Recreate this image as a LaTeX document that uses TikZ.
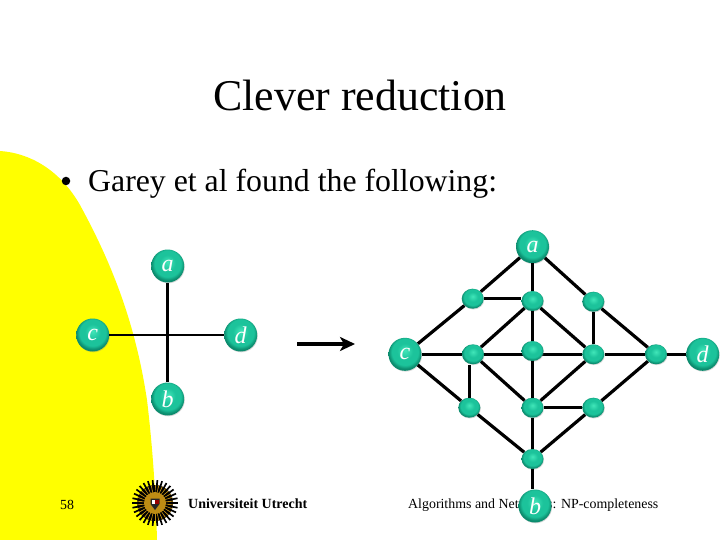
\documentclass[tikz,border=0pt]{standalone}
\usepackage{fontspec}
\setmainfont{Liberation Serif}
\usetikzlibrary{arrows.meta, shadows, shapes.geometric}
\definecolor{slideyellow}{RGB}{255,255,0}
\definecolor{ballteal}{RGB}{28,195,155}
\definecolor{ballrim}{RGB}{12,140,110}
\definecolor{balllight}{RGB}{65,230,185}
\definecolor{logogold}{RGB}{190,140,20}
\pgfdeclareradialshading{ballshade}{\pgfpoint{0bp}{6bp}}{%
  color(0bp)=(balllight); color(12bp)=(ballteal); color(20bp)=(ballteal); color(25bp)=(ballrim); color(50bp)=(ballrim)}
\begin{document}
\begin{tikzpicture}[
    x=1pt, y=-1pt,
    terminal/.style={circle, minimum size=33pt, inner sep=0pt, shading=ballshade, text=white,
        font=\fontsize{24}{24}\selectfont\itshape, drop shadow={shadow xshift=0.6pt, shadow yshift=-0.8pt, opacity=0.3}},
    joint/.style={ellipse, minimum width=22pt, minimum height=20pt, inner sep=0pt, shading=ballshade,
        drop shadow={shadow xshift=0.6pt, shadow yshift=-0.8pt, opacity=0.3}},
    edge/.style={line width=3.2pt, black},
    footer/.style={font=\fontsize{13.9}{13.9}\selectfont, inner sep=0pt}
]
\useasboundingbox (0, 0) rectangle (720, 540);

% Yellow backdrop
\fill[slideyellow] (0, 151) .. controls (30, 153) and (60, 170) .. (80, 205)
    .. controls (110, 260) and (135, 320) .. (147, 400)
    .. controls (153, 450) and (156, 500) .. (157, 540) -- (0, 540) -- cycle;

% Title and bullet
\node[font=\fontsize{43.9}{43.9}\selectfont, inner sep=0pt] (title) at (360, 95) {Clever reduction};
\node[circle, fill=black, minimum size=8.5pt, inner sep=0pt] (bullet) at (66, 181) {};
\node[font=\fontsize{31.8}{31.8}\selectfont, inner sep=0pt, anchor=west] (garey) at (88, 184) {Garey et al found the following:};

% Footer
\node[footer] (page) at (67, 505) {58};
\node[footer, anchor=west] (course) at (408, 505) {Algorithms and Networks: NP-completeness};

% Logo
\fill[black] (155, 503) circle (18);
\foreach \ang in {0, 12, ..., 348} {
    \draw[black, line width=1.7pt] (155, 503) -- ++(\ang:23);
    \draw[logogold, line width=0.8pt] (155, 503) ++(\ang+6:8) -- ++(\ang+6:10);
}
\fill[logogold] (155, 503) circle (11);
\fill[black!85] (150.5, 498.5) rectangle (159.5, 504) (150.5, 504) -- (159.5, 504) -- (155, 510) -- cycle;
\fill[white] (151.5, 499.5) rectangle (155, 504);
\fill[red!60!black] (155, 499.5) rectangle (158.5, 504);
\node[font=\fontsize{14}{14}\selectfont\bfseries, inner sep=0pt, anchor=west] (univ) at (188, 504) {Universiteit Utrecht};

% Left gadget
\node[terminal] (a1) at (167.7, 266) {a};
\node[terminal] (b1) at (167.7, 399) {b};
\node[terminal] (c1) at (92.7, 335) {c};
\node[terminal] (d1) at (240.7, 335) {d};
\draw[edge, line width=2.8pt] (a1) -- (b1);
\draw[edge, line width=2.8pt] (c1) -- (d1);

% Arrow between the two
\coordinate (from) at (297, 344);
\coordinate (to) at (355, 344);
\draw[line width=3.8pt, -{Stealth[length=15pt, width=14pt, inset=4pt]}] (from) -- (to);

% Right gadget
\node[terminal] (a2) at (532.5, 246.7) {a};
\node[terminal] (b2) at (535, 506) {b};
\node[terminal] (c2) at (405, 354.3) {c};
\node[terminal] (d2) at (702.7, 354.3) {d};
\node[joint] (n1) at (472.7, 298.7) {};
\node[joint] (n2) at (532.5, 301) {};
\node[joint] (n3) at (593.3, 301.7) {};
\node[joint] (n4) at (473, 354.3) {};
\node[joint] (n6) at (593.3, 354.3) {};
\node[joint] (n7) at (656, 354.3) {};
\node[joint] (n8) at (469.3, 407.7) {};
\node[joint] (n9) at (532.5, 407.7) {};
\node[joint] (n10) at (593.3, 407.7) {};
\node[joint] (n11) at (532.5, 459) {};

% This one sits a little above the line through it
\draw[edge] (n4) -- (n6);
\node[joint] (n5) at (532.5, 351) {};

% Edges of the right gadget
\foreach \from/\to in {a2/n1, a2/n2, a2/n3, n1/c2, n2/n4, n2/n5, n2/n6, n3/n6, n3/n7,
    c2/n4, n6/n7, n7/d2, c2/n8, n4/n9, n5/n9, n6/n9,
    n9/n10, n10/n7, n8/n11, n9/n11, n10/n11} {
    \draw[edge] (\from) -- (\to);
}
\draw[edge] (n1.east) -- (n1.east -| n2.west);
\draw[edge] (n8.north) -- (n8.north |- n4.south);
\draw[edge] (n11.south) -- (n11.south |- b2.north);

\end{tikzpicture}
\end{document}
